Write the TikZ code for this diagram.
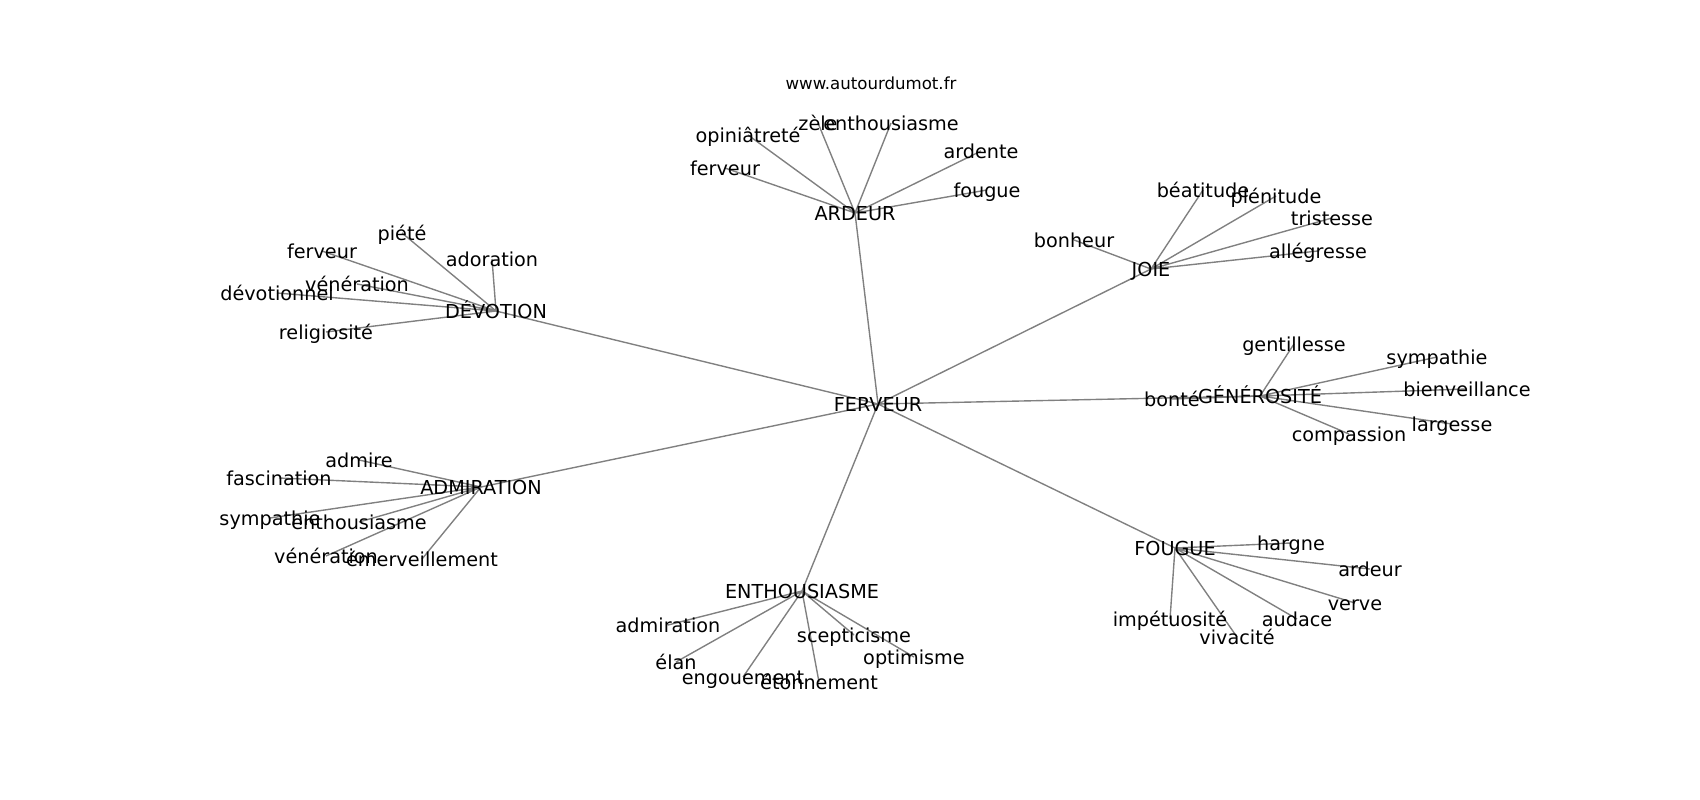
\documentclass[tikz,border=0pt]{standalone}
\usepackage{fontspec}
\setmainfont{DejaVu Sans}
\usepackage{tikz}
\usetikzlibrary{positioning}
\pgfdeclarelayer{background}
\pgfsetlayers{background,main}

\begin{document}
\begin{tikzpicture}[x=0.72bp,y=-0.72bp]
\tikzset{
    word/.style={
       inner sep = 0pt,
       font = \fontsize{13.9}{16}\selectfont,
       text height = 12bp,
       text depth = 0.8bp
    },
   edge/.style={
     draw = black!50,
     line width = 1bp
   }
}
%
\useasboundingbox (0,0) rectangle (1700,800);
\node[word, font=\fontsize{12}{14}\selectfont, text height=10bp, text depth=1bp] at (871,83) (site) {www.autourdumot.fr};

\begin{scope}
\clip (212.5,96) rectangle (1530,712);
% centre and hubs
\node[word] at (878,404) (ferveur) {FERVEUR};
\node[word] at (855,213) (ardeur) {ARDEUR};
\node[word] at (496,311) (devotion) {DÉVOTION};
\node[word] at (481,487) (admiration) {ADMIRATION};
\node[word] at (802,591) (enthousiasme) {ENTHOUSIASME};
\node[word] at (1175,548) (fougue) {FOUGUE};
\node[word] at (1260,396) (generosite) {GÉNÉROSITÉ};
\node[word] at (1151,269) (joie) {JOIE};

% ardeur
\node[word] at (818,123) (ar-zele) {zèle};
\node[word] at (891,123) (ar-enth) {enthousiasme};
\node[word] at (748,135) (ar-opin) {opiniâtreté};
\node[word] at (981,151) (ar-arde) {ardente};
\node[word] at (987,190) (ar-foug) {fougue};
\node[word] at (725,168) (ar-ferv) {ferveur};

% devotion
\node[word] at (402,233) (dv-piet) {piété};
\node[word] at (322,251) (dv-ferv) {ferveur};
\node[word] at (492,259) (dv-ador) {adoration};
\node[word] at (357,284) (dv-vene) {vénération};
\node[word] at (277,293) (dv-devo) {dévotionnel};
\node[word] at (326,332) (dv-reli) {religiosité};

% admiration
\node[word] at (359,460) (ad-admi) {admire};
\node[word] at (279,478) (ad-fasc) {fascination};
\node[word] at (270,518) (ad-symp) {sympathie};
\node[word] at (359,522) (ad-enth) {enthousiasme};
\node[word] at (326,556) (ad-vene) {vénération};
\node[word] at (422,559) (ad-emer) {émerveillement};

% enthousiasme
\node[word] at (668,625) (en-admi) {admiration};
\node[word] at (854,635) (en-scep) {scepticisme};
\node[word] at (676,662) (en-elan) {élan};
\node[word] at (914,657) (en-opti) {optimisme};
\node[word] at (743,677) (en-engo) {engouement};
\node[word] at (819,682) (en-eton) {étonnement};

% fougue
\node[word] at (1291,543) (fo-harg) {hargne};
\node[word] at (1370,569) (fo-arde) {ardeur};
\node[word] at (1355,603) (fo-verv) {verve};
\node[word] at (1170,619) (fo-impe) {impétuosité};
\node[word] at (1297,619) (fo-auda) {audace};
\node[word] at (1237,637) (fo-viva) {vivacité};

% generosite
\node[word] at (1294,344) (ge-gent) {gentillesse};
\node[word] at (1437,357) (ge-symp) {sympathie};
\node[word] at (1467,389) (ge-bien) {bienveillance};
\node[word] at (1172,399) (ge-bont) {bonté};
\node[word] at (1452,424) (ge-larg) {largesse};
\node[word] at (1349,434) (ge-comp) {compassion};

% joie
\node[word] at (1074,240) (jo-bonh) {bonheur};
\node[word] at (1203,190) (jo-beat) {béatitude};
\node[word] at (1276,196) (jo-plen) {plénitude};
\node[word] at (1332,218) (jo-tris) {tristesse};
\node[word] at (1318,251) (jo-alle) {allégresse};
\end{scope}

\begin{pgfonlayer}{background}
\draw[edge] (ferveur.center) -- (ardeur.center)
  (ferveur.center) -- (devotion.center)
  (ferveur.center) -- (admiration.center)
  (ferveur.center) -- (enthousiasme.center)
  (ferveur.center) -- (fougue.center)
  (ferveur.center) -- (generosite.center)
  (ferveur.center) -- (joie.center);
\draw[edge] (ardeur.center) -- (ar-zele.center) (ardeur.center) -- (ar-enth.center)
  (ardeur.center) -- (ar-opin.center) (ardeur.center) -- (ar-arde.center)
  (ardeur.center) -- (ar-foug.center) (ardeur.center) -- (ar-ferv.center);
\draw[edge] (devotion.center) -- (dv-piet.center) (devotion.center) -- (dv-ferv.center)
  (devotion.center) -- (dv-ador.center) (devotion.center) -- (dv-vene.center)
  (devotion.center) -- (dv-devo.center) (devotion.center) -- (dv-reli.center);
\draw[edge] (admiration.center) -- (ad-admi.center) (admiration.center) -- (ad-fasc.center)
  (admiration.center) -- (ad-symp.center) (admiration.center) -- (ad-enth.center)
  (admiration.center) -- (ad-vene.center) (admiration.center) -- (ad-emer.center);
\draw[edge] (enthousiasme.center) -- (en-admi.center) (enthousiasme.center) -- (en-scep.center)
  (enthousiasme.center) -- (en-elan.center) (enthousiasme.center) -- (en-opti.center)
  (enthousiasme.center) -- (en-engo.center) (enthousiasme.center) -- (en-eton.center);
\draw[edge] (fougue.center) -- (fo-harg.center) (fougue.center) -- (fo-arde.center)
  (fougue.center) -- (fo-verv.center) (fougue.center) -- (fo-impe.center)
  (fougue.center) -- (fo-auda.center) (fougue.center) -- (fo-viva.center);
\draw[edge] (generosite.center) -- (ge-gent.center) (generosite.center) -- (ge-symp.center)
  (generosite.center) -- (ge-bien.center) (generosite.center) -- (ge-bont.center)
  (generosite.center) -- (ge-larg.center) (generosite.center) -- (ge-comp.center);
\draw[edge] (joie.center) -- (jo-bonh.center) (joie.center) -- (jo-beat.center)
  (joie.center) -- (jo-plen.center) (joie.center) -- (jo-tris.center)
  (joie.center) -- (jo-alle.center);
\end{pgfonlayer}
\end{tikzpicture}
\end{document}
